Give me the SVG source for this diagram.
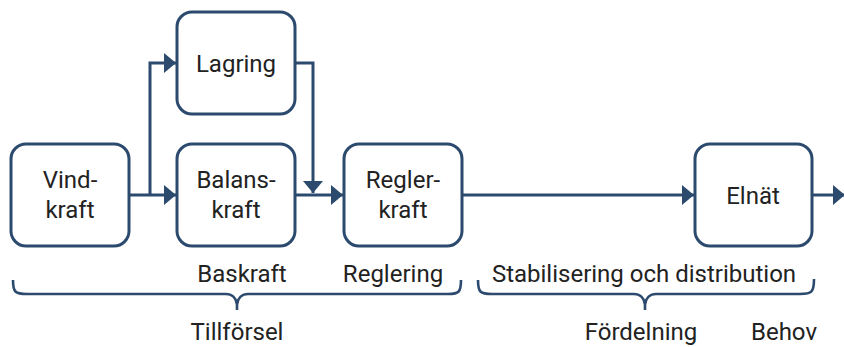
<svg xmlns="http://www.w3.org/2000/svg" width="844" height="347" viewBox="0 0 844 347">
<defs>
<style>
.box{fill:#fff;stroke:#2c4a6e;stroke-width:3}
.t{font-family:Roboto,"Liberation Sans",sans-serif;font-size:24px;fill:#222;text-anchor:middle}
.c{fill:none;stroke:#2c4a6e;stroke-width:3}
.br{fill:none;stroke:#2c4a6e;stroke-width:2.6}
</style>
<marker id="ah" markerUnits="userSpaceOnUse" markerWidth="12" markerHeight="20" refX="12" refY="10" orient="auto">
<path d="M0,0 L12,10 L0,20 z" fill="#2c4a6e"/>
</marker>
</defs>
<rect width="844" height="347" fill="#fff"/>
<g id="connectors">
<path class="c" d="M130,195 L176,195" marker-end="url(#ah)"/>
<path class="c" d="M150,195 L150,63 L176,63" marker-end="url(#ah)"/>
<path class="c" d="M296,63 L313,63 L313,193" marker-end="url(#ah)"/>
<path class="c" d="M296,195 L343,195" marker-end="url(#ah)"/>
<path class="c" d="M463,195 L694,195" marker-end="url(#ah)"/>
<path class="c" d="M813,195 L845,195" marker-end="url(#ah)"/>
</g>
<g id="vindkraft"><rect class="box" x="11" y="144" width="118" height="102" rx="15"/><text class="t" x="70" y="188">Vind-</text><text class="t" x="70" y="218">kraft</text></g>
<g id="lagring"><rect class="box" x="177" y="12" width="118" height="102" rx="15"/><text class="t" x="236" y="72">Lagring</text></g>
<g id="balanskraft"><rect class="box" x="177" y="144" width="118" height="102" rx="15"/><text class="t" x="236" y="188">Balans-</text><text class="t" x="236" y="218">kraft</text></g>
<g id="reglerkraft"><rect class="box" x="344" y="144" width="118" height="102" rx="15"/><text class="t" x="403" y="188">Regler-</text><text class="t" x="403" y="218">kraft</text></g>
<g id="elnat"><rect class="box" x="695" y="144" width="117" height="102" rx="15"/><text class="t" x="753" y="204">Elnät</text></g>
<g id="labels">
<text class="t" x="242" y="282">Baskraft</text>
<text class="t" x="393" y="282">Reglering</text>
<text class="t" x="644" y="282">Stabilisering och distribution</text>
<text class="t" x="237" y="340">Tillförsel</text>
<text class="t" x="641" y="340">Fördelning</text>
<text class="t" x="784" y="340">Behov</text>
</g>
<g id="braces">
<path class="br" d="M13,280 C13,292 15,294 27,294 L226,294 C232,294 236,298 237,304 C238,298 242,294 248,294 L448,294 C459,294 461,292 461,280"/>
<path class="br" d="M237,302 L237,310"/>
<path class="br" d="M478,280 C478,292 480,294 492,294 L634,294 C640,294 644,298 645,304 C646,298 650,294 656,294 L800,294 C812,294 814,292 814,279"/>
<path class="br" d="M645,302 L645,310"/>
</g>
</svg>
